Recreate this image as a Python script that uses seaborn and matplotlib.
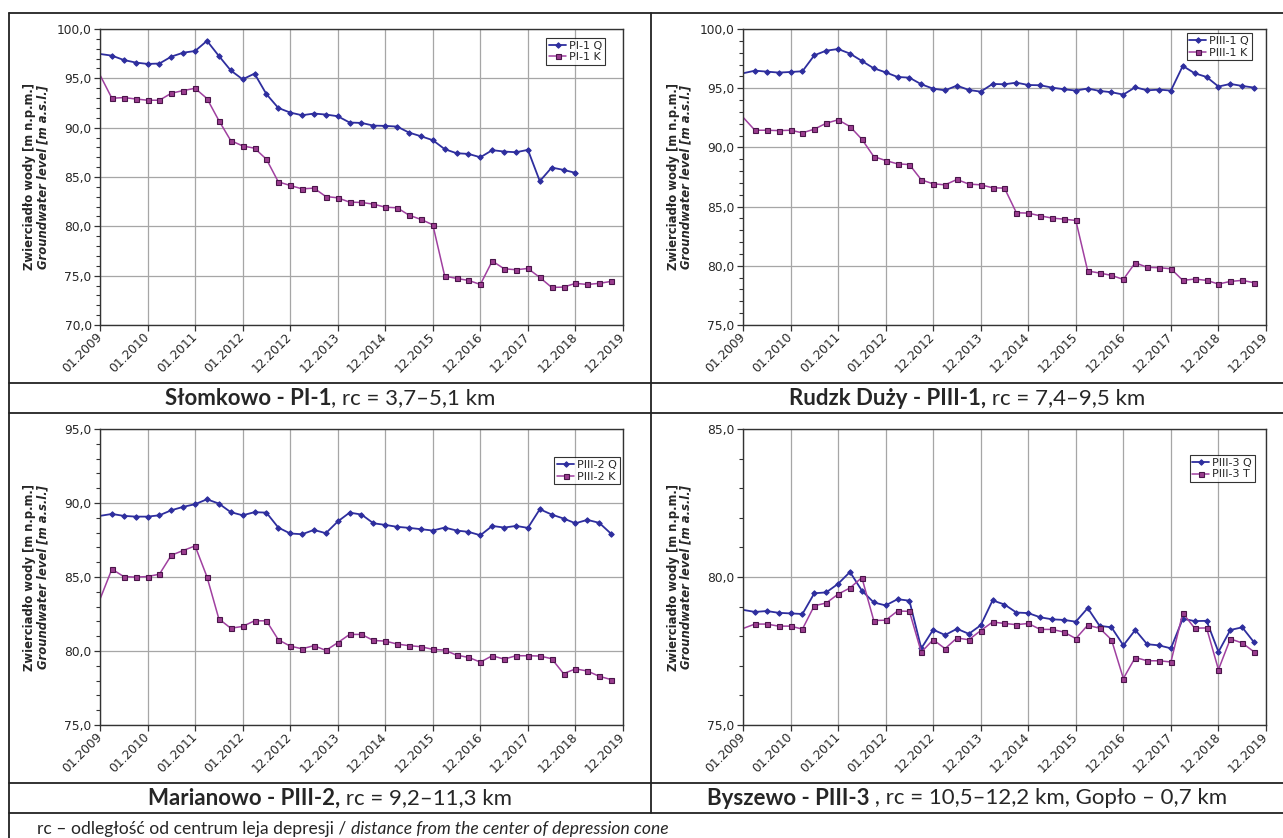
import numpy as np
import pandas as pd
import matplotlib
matplotlib.use("Agg")
import matplotlib.pyplot as plt
from matplotlib.lines import Line2D
from matplotlib.ticker import MultipleLocator
import seaborn as sns

# tick labels on the x axis (one tick every 4 quarterly readings)
tick_labels = ["01.2009", "01.2010", "01.2011", "01.2012", "12.2012", "12.2013",
               "12.2014", "12.2015", "12.2016", "12.2017", "12.2018", "12.2019"]

# Słomkowo - PI-1
p1_q = [97.47, 97.3, 96.86, 96.6, 96.46, 96.5, 97.2, 97.6, 97.77, 98.8,
        97.27, 95.8, 94.9, 95.48, 93.4, 92.0, 91.53, 91.26, 91.43, 91.33,
        91.16, 90.52, 90.48, 90.21, 90.18, 90.11, 89.5, 89.13, 88.73, 87.82,
        87.41, 87.34, 87.0, 87.72, 87.58, 87.51, 87.75, 84.58, 85.96, 85.72,
        85.42, np.nan, np.nan, np.nan]
p1_k = [95.34, 92.98, 93.05, 92.91, 92.78, 92.78, 93.49, 93.76, 93.99, 92.95,
        90.72, 88.69, 88.15, 87.92, 86.8, 84.51, 84.14, 83.8, 83.87, 83.02,
        82.89, 82.45, 82.42, 82.25, 81.94, 81.88, 81.13, 80.7, 80.16, 74.96,
        74.72, 74.52, 74.11, 76.48, 75.7, 75.6, 75.73, 74.82, 73.81, 73.84,
        74.22, 74.11, 74.22, 74.42]

# Rudzk Duży - PIII-1
p2_q = [96.26, 96.48, 96.4, 96.32, 96.37, 96.43, 97.78, 98.17, 98.31, 97.92,
        97.3, 96.68, 96.34, 95.95, 95.89, 95.33, 94.96, 94.82, 95.22, 94.85,
        94.71, 95.36, 95.33, 95.47, 95.27, 95.25, 95.05, 94.91, 94.8, 94.97,
        94.77, 94.66, 94.46, 95.08, 94.82, 94.88, 94.8, 96.88, 96.26, 95.95,
        95.14, 95.36, 95.19, 95.05]
p2_k = [92.55, 91.45, 91.45, 91.42, 91.45, 91.23, 91.54, 92.04, 92.33, 91.76,
        90.69, 89.23, 88.89, 88.61, 88.55, 87.26, 86.92, 86.84, 87.29, 86.9,
        86.84, 86.59, 86.56, 84.48, 84.45, 84.22, 84.03, 83.94, 83.83, 79.56,
        79.39, 79.19, 78.85, 80.26, 79.87, 79.84, 79.75, 78.77, 78.88, 78.77,
        78.46, 78.68, 78.77, 78.57]

# Marianowo - PIII-2
p3_q = [89.13, 89.26, 89.13, 89.08, 89.08, 89.17, 89.51, 89.74, 89.92, 90.25,
        89.96, 89.38, 89.17, 89.38, 89.35, 88.34, 87.94, 87.89, 88.18, 87.96,
        88.75, 89.35, 89.22, 88.63, 88.52, 88.39, 88.32, 88.23, 88.14, 88.34,
        88.14, 88.05, 87.82, 88.45, 88.34, 88.45, 88.32, 89.58, 89.22, 88.95,
        88.63, 88.86, 88.66, 87.92]
p3_k = [83.5, 85.53, 85.03, 84.99, 85.03, 85.19, 86.47, 86.79, 87.1, 85.01,
        82.17, 81.54, 81.66, 82.04, 82.04, 80.76, 80.33, 80.15, 80.36, 80.04,
        80.56, 81.12, 81.12, 80.71, 80.67, 80.47, 80.36, 80.29, 80.11, 80.06,
        79.72, 79.57, 79.25, 79.68, 79.45, 79.68, 79.68, 79.66, 79.48, 78.47,
        78.79, 78.65, 78.29, 78.07]

# Byszewo - PIII-3
p4_q = [78.89, 78.82, 78.85, 78.79, 78.77, 78.75, 79.45, 79.48, 79.77, 80.17,
        79.54, 79.14, 79.04, 79.25, 79.2, 77.59, 78.22, 78.04, 78.25, 78.08,
        78.37, 79.21, 79.07, 78.8, 78.78, 78.64, 78.57, 78.55, 78.49, 78.95,
        78.35, 78.3, 77.69, 78.21, 77.73, 77.69, 77.59, 78.59, 78.51, 78.52,
        77.47, 78.21, 78.3, 77.79]
p4_t = [78.26, 78.41, 78.41, 78.34, 78.34, 78.24, 79.03, 79.12, 79.42, 79.63,
        79.98, 78.53, 78.54, 78.85, 78.84, 77.46, 77.88, 77.58, 77.94, 77.88,
        78.19, 78.48, 78.43, 78.39, 78.43, 78.23, 78.23, 78.14, 77.92, 78.37,
        78.27, 77.88, 76.57, 77.28, 77.17, 77.17, 77.13, 78.78, 78.27, 78.28,
        76.87, 77.91, 77.77, 77.47]

panels = [
    {"q": p1_q, "k": p1_k, "names": ["PI-1 Q", "PI-1 K"], "ylim": (70, 100),
     "bold": "Słomkowo - PI-1", "rest": ", rc = 3,7–5,1 km"},
    {"q": p2_q, "k": p2_k, "names": ["PIII-1 Q", "PIII-1 K"], "ylim": (75, 100),
     "bold": "Rudzk Duży - PIII-1,", "rest": " rc = 7,4–9,5 km"},
    {"q": p3_q, "k": p3_k, "names": ["PIII-2 Q", "PIII-2 K"], "ylim": (75, 95),
     "bold": "Marianowo - PIII-2,", "rest": " rc = 9,2–11,3 km"},
    {"q": p4_q, "k": p4_t, "names": ["PIII-3 Q", "PIII-3 T"], "ylim": (75, 85),
     "bold": "Byszewo - PIII-3", "rest": " , rc = 10,5–12,2 km, Gopło – 0,7 km"},
]

sns.set_theme(style="white")
plt.rcParams["font.family"] = ["DejaVu Sans"]

W, H = 1283, 838
fig = plt.figure(figsize=(W / 100, H / 100), dpi=100)

# pixel boxes of each plot area: left, top, right, bottom
boxes = [(100, 29, 623, 325), (743, 29, 1266, 325),
         (100, 429, 623, 725), (743, 429, 1266, 725)]
legend_pos = [(0.966, 0.97), (0.973, 0.986), (0.994, 0.905), (0.979, 0.912)]
title_cx = [330, 967, 330, 967]
title_y = [398, 398, 798, 798]

blue = "#2E2E9E"
purple = "#A040A0"

for n, p in enumerate(panels):
    l, t, r, b = boxes[n]
    ax = fig.add_axes([l / W, 1 - b / H, (r - l) / W, (b - t) / H])
    df = pd.DataFrame({"x": np.arange(len(p["q"])), "q": p["q"], "k": p["k"]})
    dq = df.dropna(subset=["q"])
    sns.lineplot(data=dq, x="x", y="q", ax=ax, color=blue, lw=1.3,
                 marker="D", markersize=2.8, markeredgecolor=blue,
                 markevery=slice(1, None), label=p["names"][0])
    sns.lineplot(data=df, x="x", y="k", ax=ax, color=purple, lw=1.1,
                 marker="s", markersize=3.6, markerfacecolor="#9B3D8F",
                 markeredgecolor="#4A154A", markeredgewidth=0.8,
                 markevery=slice(1, None), label=p["names"][1])
    ax.set_xlim(0, 44)
    ax.set_ylim(*p["ylim"])
    ax.set_xticks(np.arange(0, 45, 4))
    ax.set_xticklabels(tick_labels, rotation=45, ha="right", va="center",
                       rotation_mode="anchor", fontsize=8.8)
    ax.yaxis.set_major_locator(MultipleLocator(5))
    ax.yaxis.set_minor_locator(MultipleLocator(1))
    ax.set_yticklabels([f"{v:.1f}".replace(".", ",") for v in ax.get_yticks()],
                       fontsize=8.8)
    ax.tick_params(axis="x", which="major", bottom=True, length=4, width=0.9,
                   color="#333333", pad=3)
    ax.tick_params(axis="y", which="major", left=True, length=4, width=0.9,
                   color="#333333", pad=2)
    ax.tick_params(axis="y", which="minor", left=True, length=3, width=0.8,
                   color="#333333")
    ax.grid(True, which="major", color="#A6A6A6", lw=0.9)
    ax.set_axisbelow(True)
    for s in ax.spines.values():
        s.set_color("#333333")
        s.set_linewidth(1.0)
    ax.set_xlabel("")
    ax.set_ylabel("")
    leg = ax.legend(loc="upper right", bbox_to_anchor=legend_pos[n], fontsize=8,
                    frameon=True, fancybox=False, edgecolor="black",
                    handlelength=1.5, handletextpad=0.3, borderpad=0.25,
                    labelspacing=0.15, borderaxespad=0)
    leg.get_frame().set_linewidth(0.8)

    # two-line y label
    ycen = 1 - (t + b) / 2 / H
    fig.text((l - 70) / W, ycen, "Zwierciadło wody [m n.p.m.]", rotation=90,
             ha="center", va="center", fontsize=8.4, fontweight="bold")
    fig.text((l - 57) / W, ycen, "Groundwater level [m a.s.l.]", rotation=90,
             ha="center", va="center", fontsize=8.4, fontweight="bold",
             style="italic")

# frame lines of the table layout
def hline(y, x0=9, x1=W):
    fig.add_artist(Line2D([x0 / W, x1 / W], [1 - y / H, 1 - y / H],
                          transform=fig.transFigure, color="#222222", lw=1.3))

def vline(x, y0, y1):
    fig.add_artist(Line2D([x / W, x / W], [1 - y0 / H, 1 - y1 / H],
                          transform=fig.transFigure, color="#222222", lw=1.3))

for y in [13, 383, 413, 783, 813]:
    hline(y)
vline(9, 13, H)
vline(651, 13, 813)

# titles: bold part + regular part, centred together
renderer = fig.canvas.get_renderer()
for n, p in enumerate(panels):
    yy = 1 - title_y[n] / H
    t1 = fig.text(0, yy, p["bold"], fontsize=16, fontweight="bold",
                  family=["Lato", "DejaVu Sans"], va="center")
    t2 = fig.text(0, yy, p["rest"], fontsize=16,
                  family=["Lato", "DejaVu Sans"], va="center")
    w1 = t1.get_window_extent(renderer).width
    w2 = t2.get_window_extent(renderer).width
    x0 = title_cx[n] - (w1 + w2) / 2
    t1.set_x(x0 / W)
    t2.set_x((x0 + w1) / W)

# footnote
f1 = fig.text(37 / W, 1 - 829 / H, "rc – odległość od centrum leja depresji / ",
              fontsize=12.6, family=["Lato", "DejaVu Sans"], va="center")
w = f1.get_window_extent(renderer).width
fig.text((37 + w) / W, 1 - 829 / H, "distance from the center of depression cone",
         fontsize=12.6, family=["Lato", "DejaVu Sans"], style="italic", va="center")

fig.savefig("out.png", dpi=100)
